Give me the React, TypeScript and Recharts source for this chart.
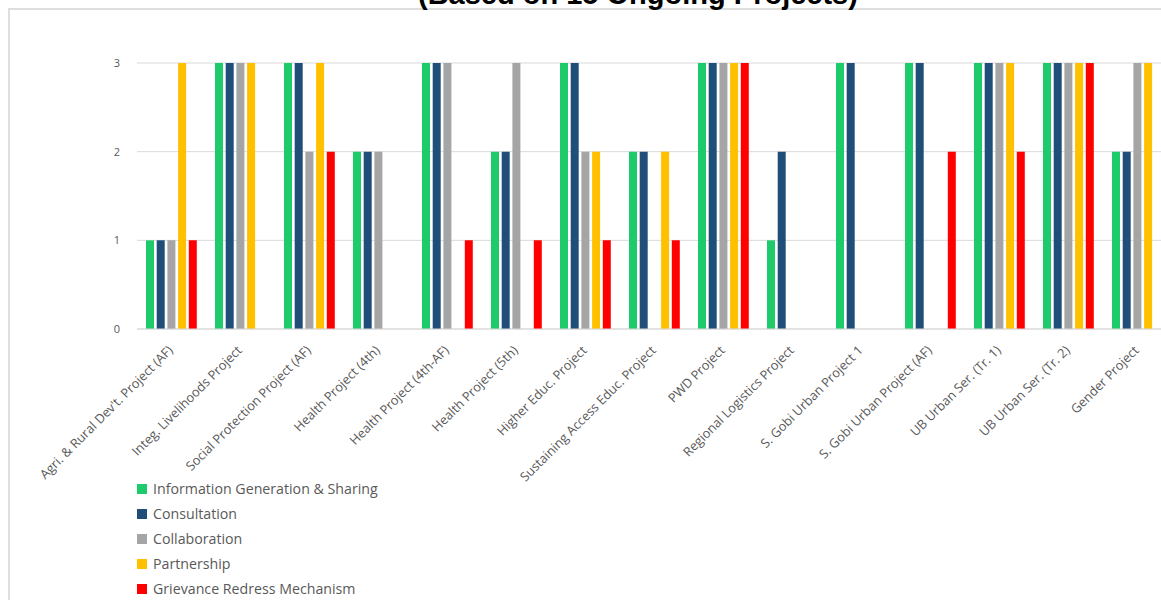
import { BarChart, Bar, XAxis, YAxis, CartesianGrid, Legend } from 'recharts'

const projects = [
  'Agri. & Rural Dev\'t. Project (AF)',
  'Integ. Livelihoods Project',
  'Social Protection Project (AF)',
  'Health Project (4th)',
  'Health Project (4th-AF)',
  'Health Project (5th)',
  'Higher Educ. Project',
  'Sustaining Access Educ. Project',
  'PWD Project',
  'Regional Logistics Project',
  'S. Gobi Urban Project 1',
  'S. Gobi Urban Project (AF)',
  'UB Urban Ser. (Tr. 1)',
  'UB Urban Ser. (Tr. 2)',
  'Gender Project',
]

const infoSharing = [1, 3, 3, 2, 3, 2, 3, 2, 3, 1, 3, 3, 3, 3, 2]
const consultation = [1, 3, 3, 2, 3, 2, 3, 2, 3, 2, 3, 3, 3, 3, 2]
const collaboration = [1, 3, 2, 2, 3, 3, 2, 0, 3, 0, 0, 0, 3, 3, 3]
const partnership = [3, 3, 3, 0, 0, 0, 2, 2, 3, 0, 0, 0, 3, 3, 3]
const grievance = [1, 0, 2, 0, 1, 1, 1, 1, 3, 0, 0, 2, 2, 3, 0]

const yTicks = [0, 1, 2, 3]

const series = [
  { key: 'info', name: 'Information Generation & Sharing', color: '#1DCB6B', values: infoSharing },
  { key: 'cons', name: 'Consultation', color: '#1F4E79', values: consultation },
  { key: 'coll', name: 'Collaboration', color: '#A5A5A5', values: collaboration },
  { key: 'part', name: 'Partnership', color: '#FFC000', values: partnership },
  { key: 'griev', name: 'Grievance Redress Mechanism', color: '#FF0000', values: grievance },
]

const rows = projects.map((p, i) => {
  const r: Record<string, string | number> = { project: p }
  series.forEach(s => { r[s.key] = s.values[i] })
  return r
})

const font = '"Open Sans", sans-serif'

function ProjectTick(props: any) {
  const { x, y, payload } = props
  return (
    <g transform={`translate(${x - 1},${y + 11}) rotate(-45)`}>
      <text textAnchor="end" fill="#595959" fontSize={12.8} fontFamily={font} dy="0.35em">
        {payload.value}
      </text>
    </g>
  )
}

function LegendBox() {
  return (
    <div style={{ height: 121, paddingLeft: 137, boxSizing: 'border-box', position: 'relative', top: -3 }}>
      {series.map(s => (
        <div key={s.key} style={{ display: 'flex', alignItems: 'center', height: 25 }}>
          <span style={{ width: 10, height: 10, background: s.color, display: 'inline-block', marginRight: 6 }} />
          <span style={{ fontFamily: font, fontSize: 14.2, color: '#595959' }}>{s.name}</span>
        </div>
      ))}
    </div>
  )
}

export default function App() {
  return (
    <div style={{ position: 'absolute', left: 0, top: 0, width: 1161, height: 600, overflow: 'hidden', background: '#fff' }}>
      <div style={{ position: 'absolute', left: 8, top: 8, width: 1300, height: 700, borderLeft: '2px solid #dedede', borderTop: '2px solid #dedede' }} />
      <div style={{ position: 'absolute', left: 418, top: -20, whiteSpace: 'nowrap', fontFamily: '"Liberation Sans", Arial, sans-serif', fontWeight: 'bold', fontSize: 29, lineHeight: '29px', color: '#000' }}>
        (Based on 15 Ongoing Projects)
      </div>
      <div style={{ position: 'absolute', left: 0, top: 0 }}>
        <BarChart width={1172} height={600} data={rows} margin={{ top: 63, right: 0, left: 0, bottom: 0 }} barSize={8} barGap={2.7}>
          <CartesianGrid vertical={false} stroke="#d9d9d9" />
          <XAxis dataKey="project" interval={0} height={150} tickLine={false} axisLine={{ stroke: '#d9d9d9' }} tick={<ProjectTick />} />
          <YAxis width={137} domain={[0, 3]} ticks={yTicks} axisLine={false} tickLine={false} tickMargin={11}
            tick={{ fill: '#595959', fontSize: 11, fontFamily: font }} />
          <Legend verticalAlign="bottom" align="left" content={<LegendBox />} />
          {series.map(s => (
            <Bar key={s.key} dataKey={s.key} name={s.name} fill={s.color} isAnimationActive={false} />
          ))}
        </BarChart>
      </div>
    </div>
  )
}
